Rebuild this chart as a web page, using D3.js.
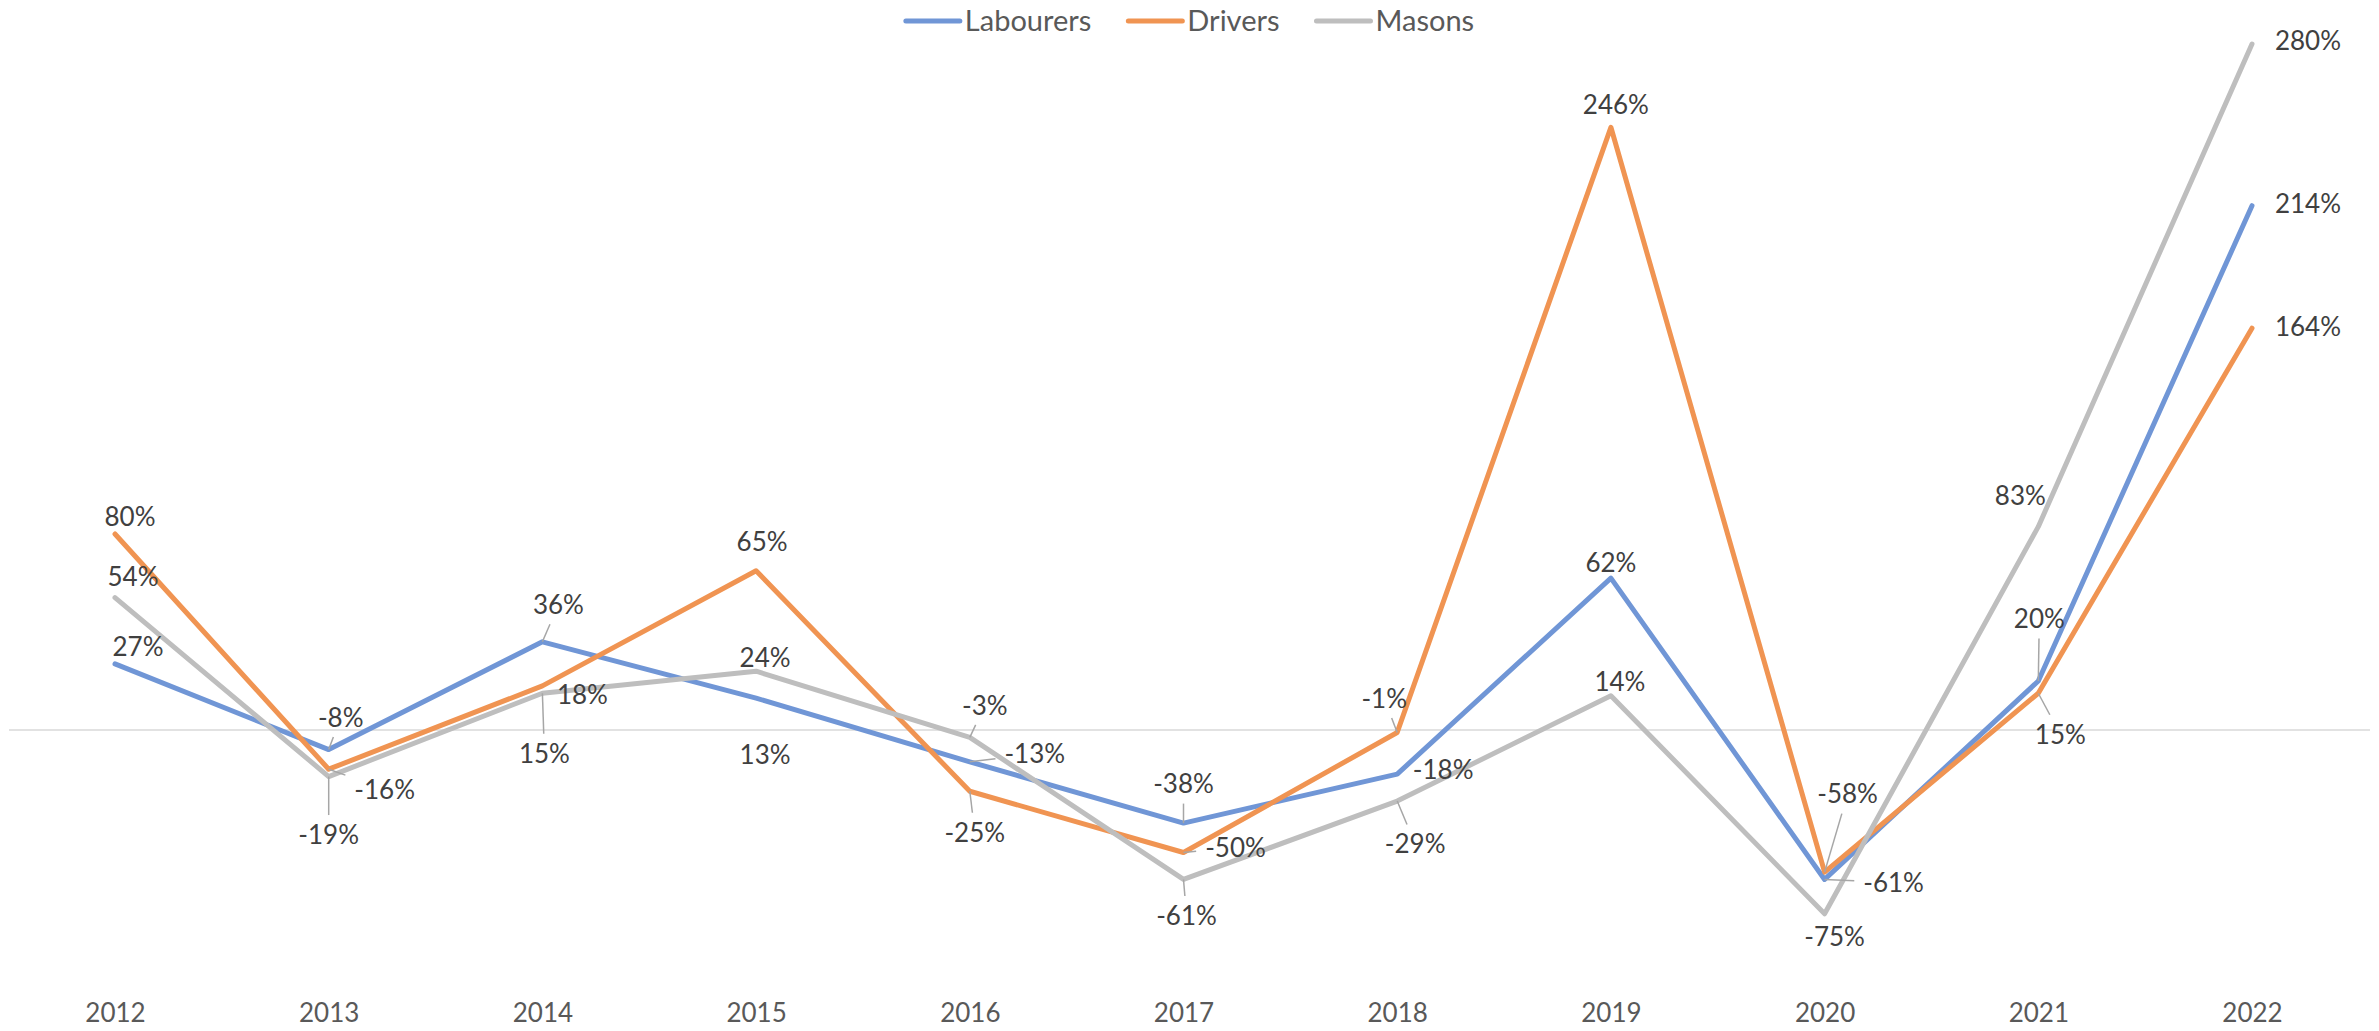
<!DOCTYPE html>
<html lang="en">
  <head>
    <meta charset="UTF-8" />
    <title>Labourers, Drivers, Masons - yearly change</title>
    <script src="https://d3js.org/d3.v7.min.js"></script>
    <style>
      html, body { margin: 0; padding: 0; background: #fff; }
      svg { display: block; font-family: Lato, "Noto Sans", sans-serif; }
    </style>
  </head>
  <body>
    <svg id="chart" width="2379" height="1031"></svg>

    <script>
      // data (percent change)
      const years = ["2012", "2013", "2014", "2015", "2016", "2017", "2018", "2019", "2020", "2021", "2022"];
      const seriesNames = ["Labourers", "Drivers", "Masons"];
      const labourers = [27, -8, 36, 13, -13, -38, -18, 62, -61, 20, 214];
      const drivers = [80, -16, 18, 65, -25, -50, -1, 246, -58, 15, 164];
      const masons = [54, -19, 15, 24, -3, -61, -29, 14, -75, 83, 280];

      // label placement (dx, dy from point, draw leader line?)
      const labourersLabelPos = [[23,-17,0],[12,-32,1],[16,-37,1],[9,56,0],[65,-8,1],[0,-39,1],[46,-4,0],[0,-15,0],[69,3,1],[1,-62,1],[56,-2,0]];
      const driversLabelPos = [[15,-17,0],[56,20,1],[40,9,0],[6,-29,0],[5,41,1],[52,-5,1],[-13,-34,1],[5,-23,0],[23,-78,1],[22,41,1],[56,-2,0]];
      const masonsLabelPos = [[18,-21,0],[0,58,1],[2,60,1],[9,-14,0],[15,-32,1],[3,36,1],[18,43,1],[9,-14,0],[10,23,0],[-18,-31,0],[56,-3,0]];

      const colors = ["#7096d6", "#f09452", "#bebebe"];

      const series = [
        { name: seriesNames[0], values: labourers, pos: labourersLabelPos, color: colors[0] },
        { name: seriesNames[1], values: drivers, pos: driversLabelPos, color: colors[1] },
        { name: seriesNames[2], values: masons, pos: masonsLabelPos, color: colors[2] },
      ];

      const svg = d3.select("#chart");
      const width = +svg.attr("width");

      const x = d3.scalePoint().domain(years).range([115, 2252]);
      const y = d3.scaleLinear().domain([-100, 300]).range([975, -5]);

      // zero line
      svg.append("line")
        .attr("x1", 9).attr("x2", width - 9)
        .attr("y1", y(0)).attr("y2", y(0))
        .attr("stroke", "#d9d9d9")
        .attr("stroke-width", 1.5);

      // category axis at the bottom
      const xAxis = svg.append("g")
        .attr("transform", "translate(0,1000)")
        .call(d3.axisBottom(x).tickSize(0).tickPadding(0));
      xAxis.select(".domain").remove();
      xAxis.selectAll("text")
        .attr("y", 22)
        .attr("dy", 0)
        .style("font-family", "Lato, sans-serif")
        .style("font-size", "26px")
        .attr("fill", "#595959");

      const line = d3.line()
        .x((d, i) => x(years[i]))
        .y((d) => y(d));

      series.forEach((s) => {
        svg.append("path")
          .datum(s.values)
          .attr("fill", "none")
          .attr("stroke", s.color)
          .attr("stroke-width", 5)
          .attr("stroke-linejoin", "round")
          .attr("stroke-linecap", "round")
          .attr("d", line);
      });

      // data labels + leader lines
      const fs = 26;
      const labelLayer = svg.append("g");
      const leaderLayer = svg.append("g");
      series.forEach((s) => {
        s.values.forEach((v, i) => {
          const px = x(years[i]);
          const py = y(v);
          const [dx, dy, leader] = s.pos[i];
          const cx = px + dx;
          const cy = py + dy;
          const t = labelLayer.append("text")
            .attr("x", cx)
            .attr("y", cy + fs * 0.36)
            .attr("text-anchor", "middle")
            .style("font-size", fs + "px")
            .attr("fill", "#404040")
            .text(v + "%");
          if (!leader) return;
          const w = t.node().getComputedTextLength();
          const hw = w / 2 + 9;
          const hh = 9.5 + 10;
          const ddx = cx - px;
          const ddy = cy - py;
          const k = Math.min(
            ddx === 0 ? Infinity : hw / Math.abs(ddx),
            ddy === 0 ? Infinity : hh / Math.abs(ddy)
          );
          if (k >= 1) return;
          leaderLayer.append("line")
            .attr("x1", px).attr("y1", py)
            .attr("x2", cx - k * ddx).attr("y2", cy - k * ddy)
            .attr("stroke", "#a6a6a6")
            .attr("stroke-width", 1.5);
        });
      });

      // legend
      const legend = svg.append("g");
      let lx = 0;
      seriesNames.forEach((name, i) => {
        const item = legend.append("g").attr("transform", `translate(${lx},0)`);
        item.append("line")
          .attr("x1", 2).attr("x2", 56)
          .attr("y1", 21).attr("y2", 21)
          .attr("stroke", colors[i])
          .attr("stroke-width", 5)
          .attr("stroke-linecap", "round");
        const txt = item.append("text")
          .attr("x", 61)
          .attr("y", 21 + 29 * 0.36)
          .style("font-size", "29px")
          .attr("fill", "#595959")
          .text(name);
        lx += 61 + txt.node().getComputedTextLength() + 35;
      });
      const legendWidth = lx - 35;
      legend.attr("transform", `translate(${1189 - legendWidth / 2},0)`);
    </script>
  </body>
</html>
